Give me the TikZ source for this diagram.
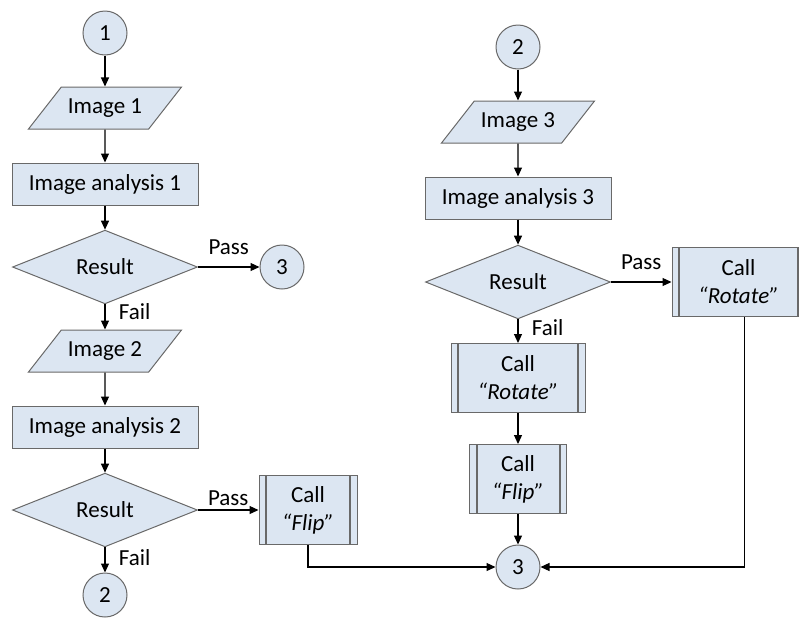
\documentclass[tikz,border=0pt]{standalone}
\usepackage{fontspec}
\setmainfont{Carlito}
\usetikzlibrary{shapes.geometric,arrows.meta}
\definecolor{boxfill}{RGB}{220,230,242}
\definecolor{boxline}{RGB}{105,105,105}
\tikzset{
  every node/.style={font=\fontsize{23}{28}\selectfont},
  base/.style={draw=boxline, fill=boxfill, line width=1pt, inner sep=0pt},
  conn/.style={base, circle, minimum size=44pt},
  iobox/.style={base, trapezium, trapezium left angle=52, trapezium right angle=128,
    trapezium stretches body, text height=15pt, text depth=5pt, inner ysep=11pt,
    minimum width=153pt},
  procbox/.style={base, rectangle, minimum width=186pt, minimum height=42pt},
  decide/.style={base, diamond, minimum width=185pt, minimum height=59pt},
  subproc/.style={base, rectangle, align=center, minimum width=#1, minimum height=69pt,
    path picture={
      \draw[boxline, line width=2pt] ([xshift=7pt]path picture bounding box.north west)
        -- ([xshift=7pt]path picture bounding box.south west);
      \draw[boxline, line width=2pt] ([xshift=-7pt]path picture bounding box.north east)
        -- ([xshift=-7pt]path picture bounding box.south east);}},
  flow/.style={-{Triangle[length=9pt,width=8pt]}, line width=1.2pt}
}
\begin{document}
\begin{tikzpicture}[x=1pt,y=-1pt]
      \useasboundingbox (0,0) rectangle (799,619);
      \clip (0,0) rectangle (799,619);
      % left column
      \node [conn] (c1) at (105,33) {1};
      \node [iobox] (img1) at (105,108) {Image 1};
      \node [procbox] (ia1) at (105,184) {Image analysis 1};
      \node [decide] (res1) at (105,267) {Result};
      \node [conn] (c3a) at (282,267) {3};
      \node [iobox] (img2) at (105,351) {Image 2};
      \node [procbox] (ia2) at (105,427) {Image analysis 2};
      \node [decide] (res2) at (105,510) {Result};
      \node [conn] (c2b) at (105,595) {2};
      \node [subproc=98pt] (flip1) at (308,510) {Call\\\textit{“Flip”}};
      % right column
      \node [conn] (c2a) at (518,47) {2};
      \node [iobox] (img3) at (518,122) {Image 3};
      \node [procbox] (ia3) at (518,198) {Image analysis 3};
      \node [decide] (res3) at (518,282) {Result};
      \node [subproc=133pt] (rot2) at (738.5,282) {Call\\\textit{“Rotate”}};
      \node [subproc=134pt] (rot1) at (518,378) {Call\\\textit{“Rotate”}};
      \node [subproc=97pt] (flip2) at (518,479) {Call\\\textit{“Flip”}};
      \node [conn] (c3b) at (518,567) {3};
      % connectors
      \draw [flow] (c1) -- (img1);
      \draw [flow] (img1) -- (ia1);
      \draw [flow] (ia1) -- (res1);
      \draw [flow] (res1) -- node [above=8pt] {Pass} (c3a);
      \draw [flow] (res1) -- node [right=10pt, pos=0.3] {Fail} (img2);
      \draw [flow] (img2) -- (ia2);
      \draw [flow] (ia2) -- (res2);
      \draw [flow] (res2) -- node [above] {Pass} (flip1);
      \draw [flow] (res2) -- node [right=10pt, pos=0.4] {Fail} (c2b);
      \draw [flow] (flip1.south) |- (c3b.west);
      \draw [flow] (c2a) -- (img3);
      \draw [flow] (img3) -- (ia3);
      \draw [flow] (ia3) -- (res3);
      \draw [flow] (res3) -- node [above=8pt] {Pass} (rot2);
      \draw [flow] (res3) -- node [right=10pt, pos=0.35] {Fail} (rot1);
      \draw [flow] (rot1) -- (flip2);
      \draw [flow] (flip2) -- (c3b);
      \draw [flow] ([xshift=6pt]rot2.south) |- (c3b.east);
\end{tikzpicture}
\end{document}
